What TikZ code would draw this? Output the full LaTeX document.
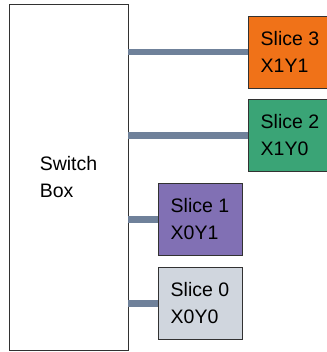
\documentclass[tikz,border=0pt]{standalone}
\usepackage{fontspec}
\setmainfont{Liberation Sans}
\usepackage{xcolor}
\usepackage{tikz}
\usetikzlibrary{positioning}
\definecolor{wireslate}{RGB}{111,129,154}
\definecolor{sliceorange}{RGB}{240,114,24}
\definecolor{slicegreen}{RGB}{58,164,118}
\definecolor{slicepurple}{RGB}{129,112,180}
\definecolor{slicegray}{RGB}{208,214,222}
\definecolor{edgegray}{RGB}{50,50,50}

\begin{document}
\begin{tikzpicture}[x=1pt, y=-1pt,
  slicebox/.style={draw=edgegray, line width=0.9pt, minimum width=84pt, minimum height=72pt,
    inner sep=0pt, align=left, font=\fontsize{19.5}{27}\selectfont},
  wire/.style={wireslate, line width=6.5pt}]
  \useasboundingbox (0,0) rectangle (326,352);
  \node[draw=edgegray, line width=0.9pt, minimum width=119pt, minimum height=346pt, inner sep=0pt,
    align=left, font=\fontsize{19.5}{27}\selectfont] (sbox) at (68.5,177) {Switch\\Box};
  % slices, two columns
  \node[slicebox, fill=sliceorange] (s3) at (290,52) {Slice 3\\X1Y1};
  \node[slicebox, fill=slicegreen] (s2) at (290,135.5) {Slice 2\\X1Y0};
  \node[slicebox, fill=slicepurple] (s1) at (200,219.5) {Slice 1\\X0Y1};
  \node[slicebox, fill=slicegray] (s0) at (200,303.5) {Slice 0\\X0Y0};
  % wires
  \foreach \s in {s3,s2,s1,s0} {
    \draw[wire] (sbox.east |- \s.west) -- (\s.west);
  }
\end{tikzpicture}
\end{document}
